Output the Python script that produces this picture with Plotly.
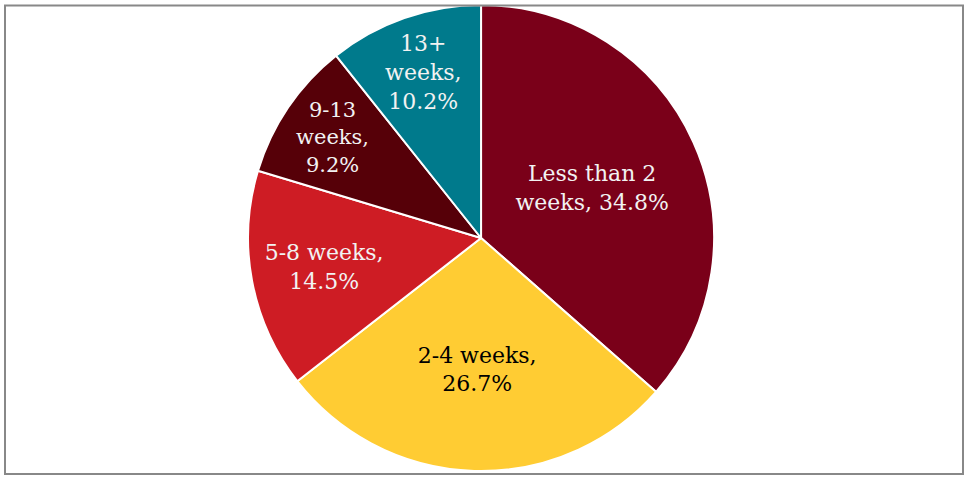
import plotly.graph_objects as go

categories = ["Less than 2 weeks", "2-4 weeks", "5-8 weeks", "9-13 weeks", "13+ weeks"]
shares = [34.8, 26.7, 14.5, 9.2, 10.2]
label_templates = [
    "Less than 2<br>weeks, {v}%",
    "2-4 weeks,<br>{v}%",
    "5-8 weeks,<br>{v}%",
    "9-13<br>weeks,<br>{v}%",
    "13+<br>weeks,<br>{v}%",
]
colors = ["#7A0019", "#FFCC33", "#CE1C24", "#560008", "#007A8C"]
text_colors = ["#F2F2F2", "#000000", "#F2F2F2", "#F2F2F2", "#F2F2F2"]

texts = [t.format(v=f"{v:.1f}") for t, v in zip(label_templates, shares)]

fig = go.Figure()
fig.add_pie(
    labels=categories,
    values=shares,
    text=texts,
    texttemplate="%{text}",
    textinfo="text",
    textposition="inside",
    insidetextorientation="horizontal",
    sort=False,
    direction="clockwise",
    marker=dict(colors=colors, line=dict(color="white", width=2)),
    textfont=dict(family="DejaVu Serif", size=22, color=text_colors),
    domain=dict(x=[0, 0.997], y=[0.0126, 0.9895]),
    hoverinfo="label+value",
)
fig.add_shape(
    type="rect", xref="paper", yref="paper",
    x0=5 / 965, x1=963 / 965, y0=3 / 477, y1=471.5 / 477,
    line=dict(color="#888888", width=2),
)
fig.update_layout(
    width=965,
    height=477,
    margin=dict(l=0, r=0, t=0, b=0),
    showlegend=False,
    paper_bgcolor="white",
    font=dict(family="DejaVu Serif"),
)
fig.write_html(
    "out.html",
    config={"displayModeBar": False},
    post_script="document.body.style.margin='0';",
)
